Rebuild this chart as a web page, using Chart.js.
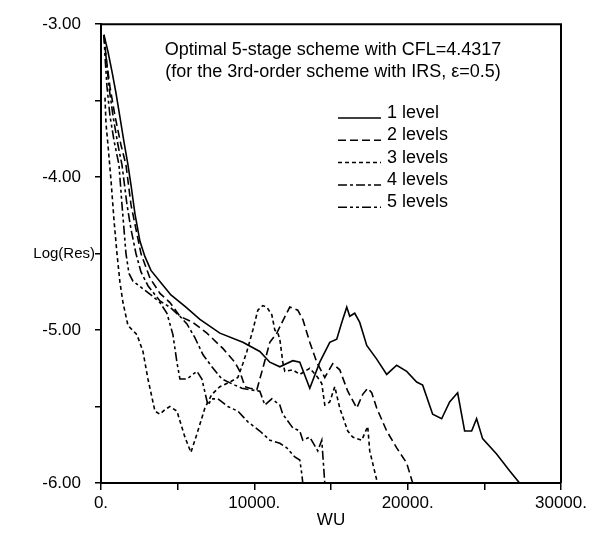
<!DOCTYPE html>
<html>
<head>
<meta charset="utf-8">
<script src="https://cdn.jsdelivr.net/npm/chart.js@4/dist/chart.umd.min.js"></script>
<style>
html,body{margin:0;padding:0;background:#fff;}
#wrap{width:593px;height:534px;}
</style>
</head>
<body>
<div id="wrap"><canvas id="c" width="593" height="534"></canvas></div>
<script>
// 收敛历程: Log(Res) vs WU, 1..5 级多重网格
var seriesLabels = ['1 level','2 levels','3 levels','4 levels','5 levels'];

var level1X = [195,456,717,977,1238,1498,1759,1955,2215,2541,2867,3258,3909,4560,5538,6450,7753,9251,10359,11010,11662,12509,12965,13616,14268,14919,15375,15701,16027,16222,16548,16874,17330,17981,18633,19284,19936,20587,20978,21630,22216,22737,23259,23715,24171,24496,24887,25799,26646,27297];
var level1Y = [-3.07,-3.18,-3.31,-3.45,-3.61,-3.77,-3.92,-4.05,-4.24,-4.42,-4.52,-4.61,-4.69,-4.77,-4.85,-4.93,-5.02,-5.08,-5.14,-5.21,-5.24,-5.20,-5.21,-5.38,-5.21,-5.08,-5.06,-4.95,-4.85,-4.91,-4.89,-4.95,-5.10,-5.19,-5.29,-5.23,-5.27,-5.34,-5.36,-5.55,-5.58,-5.47,-5.41,-5.66,-5.66,-5.58,-5.71,-5.81,-5.92,-6.00];

var level2X = [195,326,586,912,1303,1629,1955,2606,3192,3844,4495,5147,5994,6906,7948,8730,9056,9382,9707,10163,10554,11010,11466,11857,12313,12835,13160,13616,14072,14594,15114,15571,16092,16679,17069,17395,17656,17981,18633,19284,19936,20327];
var level2Y = [-3.07,-3.21,-3.41,-3.60,-3.79,-3.92,-4.18,-4.50,-4.66,-4.76,-4.82,-4.91,-4.95,-5.02,-5.12,-5.21,-5.27,-5.37,-5.38,-5.39,-5.25,-5.08,-5.02,-4.94,-4.85,-4.87,-4.93,-5.08,-5.21,-5.31,-5.22,-5.26,-5.40,-5.51,-5.42,-5.38,-5.41,-5.51,-5.66,-5.77,-5.87,-6.00];

var level3X = [260,326,456,652,847,1042,1238,1433,1759,2345,2736,3062,3518,3844,4170,4495,4951,5473,5864,6254,6776,7232,7753,8404,8926,9251,9512,9903,10229,10554,10815,11141,11336,11532,11662,11857,11988,12509,12965,13616,14137,14398,14594,14919,15245,15571,16092,16418,17004,17395,17525,17981,18046];
var level3Y = [-3.48,-3.65,-3.79,-4.02,-4.28,-4.50,-4.69,-4.82,-4.97,-5.03,-5.14,-5.32,-5.53,-5.55,-5.52,-5.50,-5.53,-5.70,-5.80,-5.68,-5.51,-5.42,-5.37,-5.34,-5.31,-5.22,-5.14,-5.00,-4.87,-4.84,-4.85,-4.90,-5.00,-5.02,-5.06,-5.21,-5.27,-5.26,-5.29,-5.25,-5.31,-5.35,-5.49,-5.47,-5.37,-5.51,-5.66,-5.70,-5.72,-5.63,-5.79,-5.98,-6.00];

var level4X = [195,326,521,782,1108,1368,1694,1955,2280,2606,3062,3844,4495,5147,5603,6124,6645,7232,7883,8730,9186,9707,10359,10685,11141,11662,11857,12509,12965,13160,13616,14137,14398,14594];
var level4Y = [-3.07,-3.21,-3.41,-3.60,-3.79,-3.92,-4.18,-4.34,-4.50,-4.62,-4.71,-4.81,-4.85,-4.91,-4.96,-5.05,-5.16,-5.24,-5.32,-5.36,-5.38,-5.39,-5.40,-5.49,-5.45,-5.49,-5.55,-5.64,-5.66,-5.72,-5.70,-5.79,-5.72,-6.00];

var level5X = [195,260,391,586,847,1173,1368,1629,1824,2085,2736,3388,3844,4300,4691,4951,5147,5603,6254,6580,6971,7232,7623,8274,8926,9577,10359,11010,11662,12118,12639,12965,13095,13160];
var level5Y = [-3.07,-3.21,-3.41,-3.60,-3.76,-3.92,-4.18,-4.50,-4.63,-4.68,-4.73,-4.78,-4.82,-4.89,-5.03,-5.21,-5.32,-5.32,-5.27,-5.32,-5.49,-5.45,-5.45,-5.50,-5.53,-5.60,-5.66,-5.72,-5.74,-5.77,-5.83,-5.85,-5.94,-6.00];

var xTickVals = [0,10000,20000,30000];
var xTickText = ['0.','10000.','20000.','30000.'];
var yTickVals = [-3,-4,-5,-6];
var yTickText = ['-3.00','-4.00','-5.00','-6.00'];
var yAxisName = 'Log(Res)';
var yAxisNameAt = -4.5;
var xAxisName = 'WU';
var titleLines = ['Optimal 5-stage scheme with CFL=4.4317','(for the 3rd-order scheme with IRS, \u03b5=0.5)'];

var FONT = '"Liberation Sans", Arial, Helvetica, sans-serif';
var dashes = [[],[8,4],[4,3],[9,3,3,3],[9,3,3,3,3,3]];
var xs = [level1X,level2X,level3X,level4X,level5X];
var ys = [level1Y,level2Y,level3Y,level4Y,level5Y];

function pts(X,Y){ return X.map(function(x,i){return {x:x,y:Y[i]};}); }

var datasets = seriesLabels.map(function(lab,i){
  return {label:lab,data:pts(xs[i],ys[i]),borderColor:'#000',backgroundColor:'#000',
    borderWidth:1.6,borderDash:dashes[i],pointRadius:0,tension:0,fill:false};
});

// 边框、轴名、标题、图例
var decor = {
  id:'decor',
  afterDraw:function(chart){
    var c = chart.ctx, a = chart.chartArea, ys_ = chart.scales.y;
    c.save();
    c.strokeStyle = '#000'; c.lineWidth = 2; c.setLineDash([]);
    c.beginPath(); c.moveTo(a.left-1,a.top); c.lineTo(a.right,a.top); c.lineTo(a.right,a.bottom); c.stroke();
    c.fillStyle = '#000';
    c.font = '15px '+FONT; c.textAlign = 'right'; c.textBaseline = 'middle';
    c.fillText(yAxisName, 95, ys_.getPixelForValue(yAxisNameAt));
    c.font = '18px '+FONT; c.textAlign = 'center';
    c.fillText(titleLines[0], 333, 50);
    c.fillText(titleLines[1], 333, 72);
    c.textAlign = 'left';
    chart.data.datasets.forEach(function(ds,i){
      var y = 113 + i*22.3;
      c.setLineDash(ds.borderDash||[]); c.lineWidth = 1.5;
      c.beginPath(); c.moveTo(338,y+5); c.lineTo(381,y+5); c.stroke();
      c.setLineDash([]);
      c.fillText(ds.label, 387, y);
    });
    c.restore();
  }
};

new Chart(document.getElementById('c'), {
  type:'line',
  data:{datasets:datasets},
  plugins:[decor],
  options:{
    responsive:false, animation:false,
    layout:{padding:{top:17,right:32,left:0,bottom:0}},
    plugins:{legend:{display:false},tooltip:{enabled:false}},
    scales:{
      x:{type:'linear',min:0,max:30000,
        ticks:{stepSize:5000,autoSkip:false,maxRotation:0,color:'#000',font:{family:FONT,size:17},padding:3,
          callback:function(v){var k=xTickVals.indexOf(v);return k>=0?xTickText[k]:'';}},
        grid:{display:true,drawOnChartArea:false,drawTicks:true,tickLength:7,color:'#000',lineWidth:1.5},
        border:{display:true,color:'#000',width:2},
        title:{display:true,text:xAxisName,color:'#000',font:{family:FONT,size:17},padding:{top:0,bottom:3}},
        afterFit:function(s){s.height=51;}
      },
      y:{type:'linear',min:-6,max:-3,
        ticks:{stepSize:0.5,autoSkip:false,color:'#000',font:{family:FONT,size:17},padding:14,
          callback:function(v){var k=yTickVals.indexOf(v);return k>=0?yTickText[k]:'';}},
        grid:{display:true,drawOnChartArea:false,drawTicks:true,tickLength:6,color:'#000',lineWidth:1.5},
        border:{display:true,color:'#000',width:2},
        afterFit:function(s){s.width=101;}
      }
    }
  }
});
</script>
</body>
</html>
